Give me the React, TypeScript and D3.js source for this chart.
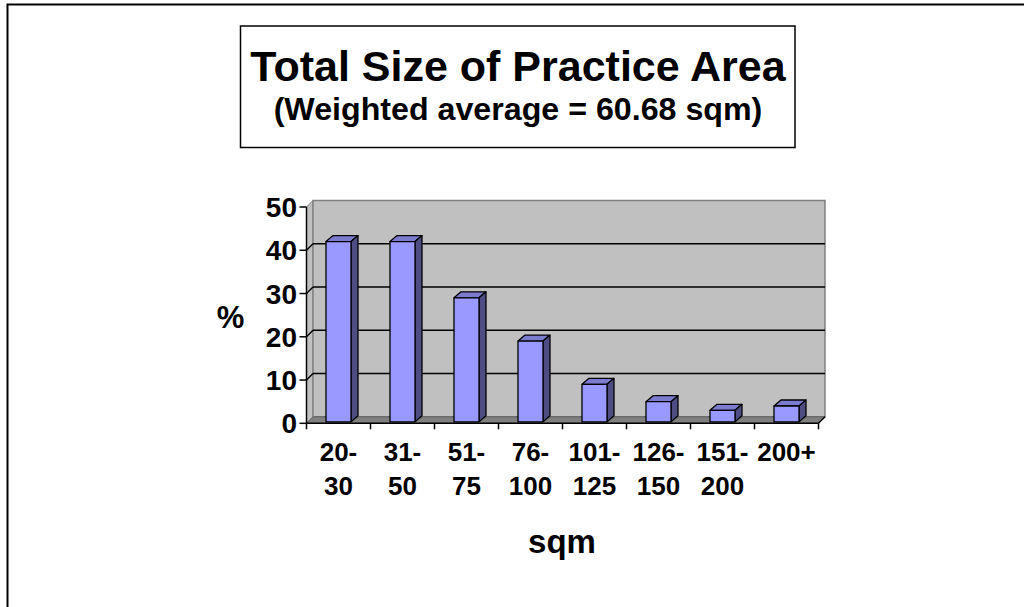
import React from "react";
import * as d3 from "d3";

const categories = ["20-30", "31-50", "51-75", "76-100", "101-125", "126-150", "151-200", "200+"];
const values = [42, 42, 29, 19, 9, 5, 3, 4];
const yTicks = [0, 10, 20, 30, 40, 50];
const title = "Total Size of Practice Area";
const subtitle = "(Weighted average = 60.68 sqm)";
const yTitle = "%";
const xTitle = "sqm";

const FONT = "'Liberation Sans', Arial, Helvetica, sans-serif";

function splitLabel(s: string): string[] {
  const i = s.indexOf("-");
  if (i >= 0 && i < s.length - 1) return [s.slice(0, i + 1), s.slice(i + 1)];
  return [s];
}

export default function App() {
  const x0 = 306.5;
  const x1 = 818.5;
  const dx = 6.5;
  const dy = -6.5;
  const x = d3.scaleBand<string>().domain(categories).range([x0, x1]).paddingInner(0).paddingOuter(0);
  const y = d3.scaleLinear().domain([0, 50]).range([423.3, 207]);
  const barW = 25;
  const bdx = 7;
  const bdy = -6;
  const yb0 = y(0);
  const yTop = y(50);

  const pts = (p: number[][]) => p.map((q) => q.join(",")).join(" ");

  const boundaries = d3.range(categories.length + 1).map((i) => x0 + i * x.bandwidth());

  return (
    <svg
      width={1024}
      height={607}
      style={{ position: "absolute", left: 0, top: 0, background: "#fff" }}
      fontFamily={FONT}
    >
      <rect x={0} y={0} width={1024} height={607} fill="#fff" />
      {/* outer frame */}
      <rect x={7.5} y={4.5} width={1040} height={640} fill="none" stroke="#000" strokeWidth={2} />

      {/* side wall */}
      <polygon
        points={pts([[x0, yb0], [x0, yTop], [x0 + dx, yTop + dy], [x0 + dx, yb0 + dy]])}
        fill="#C0C0C0"
        stroke="#808080"
        strokeWidth={1}
      />
      {/* back wall */}
      <rect
        x={x0 + dx}
        y={yTop + dy}
        width={x1 - x0}
        height={yb0 - yTop}
        fill="#C0C0C0"
        stroke="#808080"
        strokeWidth={1.5}
      />
      {/* floor */}
      <polygon
        points={pts([[x0, yb0], [x1, yb0], [x1 + dx, yb0 + dy], [x0 + dx, yb0 + dy]])}
        fill="#808080"
        stroke="#606060"
        strokeWidth={1}
      />
      {/* gridlines */}
      {yTicks.filter((t) => t > 0 && t < 50).map((t) => (
        <g key={"g" + t}>
          <line x1={x0 + dx} x2={x1 + dx} y1={y(t) + dy} y2={y(t) + dy} stroke="#000" strokeWidth={1.5} />
          <line x1={x0} x2={x0 + dx} y1={y(t)} y2={y(t) + dy} stroke="#000" strokeWidth={1.5} />
        </g>
      ))}

      {/* bars */}
      {categories.map((c, i) => {
        const cx = (x(c) as number) + x.bandwidth() / 2;
        const l = cx - barW / 2;
        const r = cx + barW / 2;
        const bt = y(values[i]);
        const bb = yb0 - 1.5;
        return (
          <g key={c} stroke="#000" strokeWidth={1.3} strokeLinejoin="round">
            <polygon points={pts([[l, bt], [r, bt], [r + bdx, bt + bdy], [l + bdx, bt + bdy]])} fill="#7B7BD0" />
            <polygon points={pts([[r, bt], [r + bdx, bt + bdy], [r + bdx, bb + bdy], [r, bb]])} fill="#4E4E85" />
            <rect x={l} y={bt} width={barW} height={bb - bt} fill="#9999FF" />
          </g>
        );
      })}

      {/* y axis */}
      <line x1={x0} x2={x0} y1={yb0} y2={yTop} stroke="#000" strokeWidth={1.5} />
      {yTicks.map((t) => (
        <g key={"y" + t}>
          <line x1={x0 - 7} x2={x0} y1={y(t)} y2={y(t)} stroke="#000" strokeWidth={1.5} />
          <text
            x={x0 - 9.5}
            y={y(t)}
            dy="0.36em"
            textAnchor="end"
            fontSize={28}
            fontWeight="bold"
            fill="#000"
          >
            {t}
          </text>
        </g>
      ))}

      {/* x axis */}
      <line x1={x0} x2={x1} y1={yb0} y2={yb0} stroke="#000" strokeWidth={1.5} />
      <line x1={x1} x2={x1 + dx} y1={yb0} y2={yb0 + dy} stroke="#000" strokeWidth={1.5} />
      {boundaries.map((bx, i) => (
        <line key={"t" + i} x1={bx} x2={bx} y1={yb0} y2={yb0 + 6} stroke="#000" strokeWidth={1.5} />
      ))}
      {categories.map((c) => {
        const cx = (x(c) as number) + x.bandwidth() / 2;
        const lines = splitLabel(c);
        return (
          <text key={"xl" + c} textAnchor="middle" fontSize={26} fontWeight="bold" fill="#000">
            {lines.map((ln, j) => (
              <tspan key={j} x={cx} y={460.7 + j * 34.3}>
                {ln}
              </tspan>
            ))}
          </text>
        );
      })}

      {/* axis titles */}
      <text x={230.5} y={328} textAnchor="middle" fontSize={31} fontWeight="bold" fill="#000">
        {yTitle}
      </text>
      <text x={562} y={553} textAnchor="middle" fontSize={33} fontWeight="bold" fill="#000">
        {xTitle}
      </text>

      {/* title box */}
      <rect x={240.5} y={26} width={554.5} height={121.5} fill="#fff" stroke="#000" strokeWidth={1.5} />
      <text x={518} y={80.7} textAnchor="middle" fontSize={43} fontWeight="bold" fill="#000">
        {title}
      </text>
      <text x={518} y={120} textAnchor="middle" fontSize={32.2} fontWeight="bold" fill="#000">
        {subtitle}
      </text>
    </svg>
  );
}
